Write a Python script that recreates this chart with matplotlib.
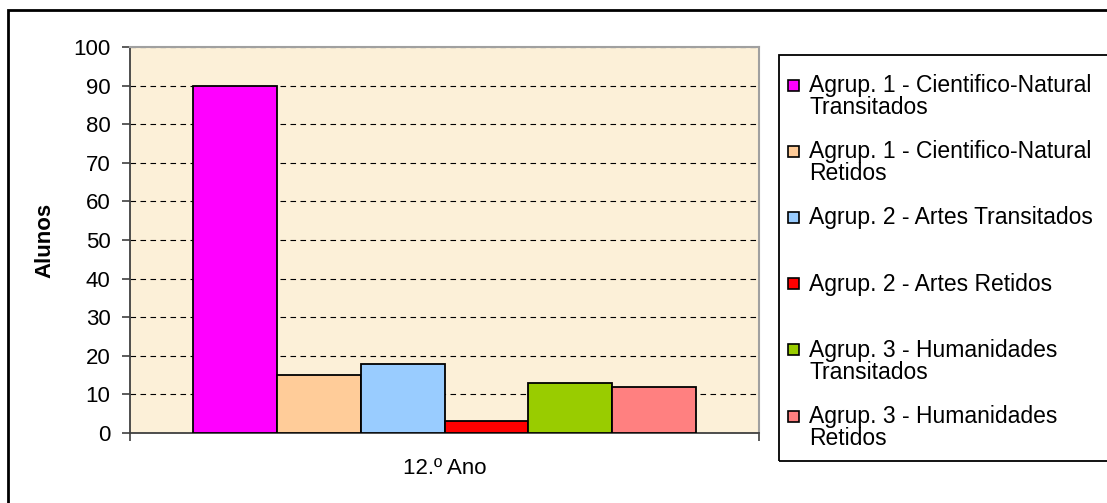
import matplotlib.pyplot as plt
from matplotlib.patches import Rectangle

plt.rcParams['font.family'] = ['Liberation Sans', 'DejaVu Sans']

# dados
categoria = "12.º Ano"
series = ["Agrup. 1 - Cientifico-Natural\nTransitados",
          "Agrup. 1 - Cientifico-Natural\nRetidos",
          "Agrup. 2 - Artes Transitados",
          "Agrup. 2 - Artes Retidos",
          "Agrup. 3 - Humanidades\nTransitados",
          "Agrup. 3 - Humanidades\nRetidos"]
valores = [90, 15, 18, 3, 13, 12]
cores = ["#FF00FF", "#FFCC99", "#99CCFF", "#FF0000", "#99CC00", "#FF8080"]

W, H = 1107, 503
fig = plt.figure(figsize=(W / 100, H / 100), dpi=100)
ax = fig.add_axes([130 / W, 1 - 433 / H, (759 - 130) / W, (433 - 47) / H])
ax.set_facecolor("#FCF0D8")

n = len(valores)
largura = 0.8 / n
for i, (v, c, s) in enumerate(zip(valores, cores, series)):
    x = -0.4 + largura * (i + 0.5)
    ax.bar(x, v, width=largura, color=c, edgecolor="black", linewidth=1.3, zorder=3)

ax.set_xlim(-0.5, 0.5)
ax.set_ylim(0, 100)
ax.set_yticks(range(0, 101, 10))
ax.yaxis.grid(True, color="black", linestyle=(0, (5, 4)), linewidth=0.8, zorder=1)
ax.set_axisbelow(True)

ax.set_xticks([0], [categoria])
ax.set_xticks([-0.5, 0.5], minor=True)
ax.tick_params(axis="x", which="major", length=0, pad=18, labelsize=16)
ax.tick_params(axis="x", which="minor", length=6, width=1.2, color="#404040")
ax.tick_params(axis="y", length=6, width=1.2, color="#404040", pad=8, labelsize=16)

ax.set_ylabel("Alunos", fontsize=16, fontweight="bold", labelpad=13)

for lado in ["left", "bottom"]:
    ax.spines[lado].set_color("#404040")
    ax.spines[lado].set_linewidth(1.3)
for lado in ["top", "right"]:
    ax.spines[lado].set_color("#A0A0A0")
    ax.spines[lado].set_linewidth(1.5)

# moldura exterior
fig.add_artist(Rectangle((7.5 / W, -0.1), 2, (503 - 9.5) / H + 0.1,
                         transform=fig.transFigure, fill=False,
                         edgecolor="black", linewidth=2))

# legenda (feita a mao para o quadrado ficar na primeira linha)
fig.add_artist(Rectangle((779 / W, 1 - 461 / H), 1, (461 - 55) / H,
                         transform=fig.transFigure, fill=False,
                         edgecolor="black", linewidth=1.3))
y0, passo = 85, 66.2
for i, (s, c) in enumerate(zip(series, cores)):
    yc = y0 + passo * i
    fig.add_artist(Rectangle((788 / W, 1 - (yc + 5.5) / H), 11 / W, 11 / H,
                             transform=fig.transFigure, facecolor=c,
                             edgecolor="black", linewidth=1.2))
    fig.text(809 / W, 1 - (yc - 11) / H, s, fontsize=16.5, va="top", ha="left",
             linespacing=0.93)

plt.savefig("out.png", dpi=100)
